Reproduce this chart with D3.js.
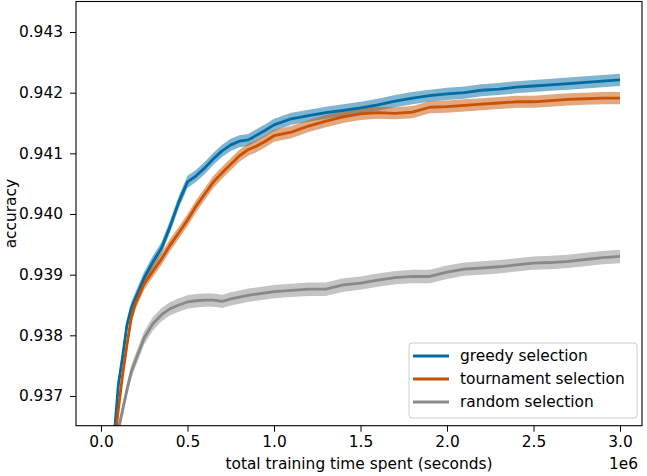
<!DOCTYPE html>
<html>
<head>
<meta charset="utf-8">
<script src="https://cdn.jsdelivr.net/npm/d3@7"></script>
<style>
  body { margin: 0; background: #fff; }
  svg { display: block; font-family: "DejaVu Sans", sans-serif; }
</style>
</head>
<body>
<svg id="chart" width="647" height="476"></svg>
<script>
// training time (x 1e6 seconds)
const times = [0.07, 0.08, 0.10, 0.125, 0.15, 0.175, 0.20, 0.25, 0.30, 0.35, 0.40, 0.45, 0.50,
  0.55, 0.60, 0.65, 0.70, 0.75, 0.80, 0.85, 0.90, 0.95, 1.00, 1.10, 1.20, 1.30, 1.40, 1.50,
  1.60, 1.70, 1.80, 1.90, 2.00, 2.10, 2.20, 2.30, 2.40, 2.50, 2.60, 2.70, 2.80, 2.90, 3.00];

const greedy = [0.93600, 0.93647, 0.93718, 0.93765, 0.93817, 0.93845, 0.93862, 0.93895, 0.93921,
  0.93944, 0.93980, 0.94020, 0.94053, 0.94063, 0.94076, 0.94091, 0.94104, 0.94114, 0.94120,
  0.94122, 0.94130, 0.94138, 0.94147, 0.94157, 0.94162, 0.94167, 0.94171, 0.94175, 0.94180,
  0.94186, 0.94191, 0.94195, 0.94198, 0.94200, 0.94204, 0.94206, 0.94209, 0.94211, 0.94213,
  0.94215, 0.94217, 0.94219, 0.94221];

const tournament = [0.93580, 0.93627, 0.93677, 0.93735, 0.93784, 0.93829, 0.93853, 0.93885,
  0.93906, 0.93926, 0.93949, 0.93969, 0.93990, 0.94013, 0.94033, 0.94053, 0.94068, 0.94082,
  0.94096, 0.94106, 0.94112, 0.94120, 0.94129, 0.94135, 0.94145, 0.94153, 0.94160, 0.94165,
  0.94167, 0.94166, 0.94168, 0.94176, 0.94177, 0.94179, 0.94181, 0.94183, 0.94185, 0.94185,
  0.94187, 0.94189, 0.94190, 0.94191, 0.94191];

const random = [0.93560, 0.93590, 0.93644, 0.93677, 0.93710, 0.93740, 0.93759, 0.93796, 0.93819,
  0.93834, 0.93844, 0.93850, 0.93855, 0.93857, 0.93858, 0.93858, 0.93856, 0.93860, 0.93863,
  0.93866, 0.93868, 0.93870, 0.93872, 0.93874, 0.93876, 0.93876, 0.93883, 0.93886, 0.93891,
  0.93895, 0.93897, 0.93897, 0.93904, 0.93909, 0.93911, 0.93913, 0.93916, 0.93919, 0.93920,
  0.93922, 0.93925, 0.93928, 0.93930];

// half width of the shaded bands
const bandWidth = [0.0001, 0.0001, 0.00011];

const seriesNames = ["greedy selection", "tournament selection", "random selection"];
const seriesColors = ["#006BA4", "#C85200", "#898989"];
const xTicks = [0, 0.5, 1.0, 1.5, 2.0, 2.5, 3.0];
const yTicks = [0.937, 0.938, 0.939, 0.940, 0.941, 0.942, 0.943];

// Plot area
const pLeft = 76, pRight = 642, pTop = 1.5, pBottom = 425.7;
const svg = d3.select("#chart");

const x = d3.scaleLinear().domain([-0.1445, 3.127]).range([pLeft, pRight]);
const y = d3.scaleLinear().domain([0.93651, 0.943503]).range([pBottom, pTop]);

svg.append("defs").append("clipPath").attr("id", "clip")
  .append("rect")
  .attr("x", pLeft).attr("y", pTop)
  .attr("width", pRight - pLeft).attr("height", pBottom - pTop);

const allSeries = [greedy, tournament, random];
const plot = svg.append("g").attr("clip-path", "url(#clip)");

// bands first, then lines on top
allSeries.forEach((vals, i) => {
  const area = d3.area()
    .x((d, j) => x(times[j]))
    .y0(d => y(d - bandWidth[i]))
    .y1(d => y(d + bandWidth[i]));
  plot.append("path")
    .attr("d", area(vals))
    .attr("fill", seriesColors[i])
    .attr("fill-opacity", 0.5);
});

allSeries.forEach((vals, i) => {
  const line = d3.line().x((d, j) => x(times[j])).y(d => y(d));
  plot.append("path")
    .attr("d", line(vals))
    .attr("fill", "none")
    .attr("stroke", seriesColors[i])
    .attr("stroke-width", 2.8)
    .attr("stroke-linejoin", "round");
});

// Axes
const xAxis = d3.axisBottom(x).tickValues(xTicks).tickFormat(d3.format(".1f"))
  .tickSizeInner(6).tickSizeOuter(0).tickPadding(4);
const gx = svg.append("g").attr("transform", `translate(0,${pBottom})`).call(xAxis);
gx.select(".domain").remove();
gx.selectAll("text").attr("font-size", "15.4px").attr("font-family", "DejaVu Sans").attr("fill", "#000");
gx.selectAll("line").attr("stroke", "#000").attr("stroke-width", 1);

const yAxis = d3.axisLeft(y).tickValues(yTicks).tickFormat(d3.format(".3f"))
  .tickSizeInner(6).tickSizeOuter(0).tickPadding(7);
const gy = svg.append("g").attr("transform", `translate(${pLeft},0)`).call(yAxis);
gy.select(".domain").remove();
gy.selectAll("text").attr("font-size", "15.4px").attr("font-family", "DejaVu Sans").attr("fill", "#000");
gy.selectAll("line").attr("stroke", "#000").attr("stroke-width", 1);

// frame
svg.append("rect")
  .attr("x", pLeft).attr("y", pTop)
  .attr("width", pRight - pLeft).attr("height", pBottom - pTop)
  .attr("fill", "none").attr("stroke", "#000").attr("stroke-width", 1.1);

// Labels
svg.append("text")
  .attr("x", (pLeft + pRight) / 2).attr("y", 469)
  .attr("text-anchor", "middle").attr("font-size", "15.4px")
  .text("total training time spent (seconds)");

svg.append("text")
  .attr("x", pRight - 4).attr("y", 469)
  .attr("text-anchor", "end").attr("font-size", "15.4px")
  .text("1e6");

svg.append("text")
  .attr("transform", `translate(16,${(pTop + pBottom) / 2}) rotate(-90)`)
  .attr("text-anchor", "middle").attr("font-size", "15.4px")
  .text("accuracy");

// Legend
const legend = svg.append("g");
legend.append("rect")
  .attr("x", 409).attr("y", 343).attr("width", 228).attr("height", 75)
  .attr("rx", 3).attr("fill", "#fff").attr("fill-opacity", 0.8)
  .attr("stroke", "#cccccc").attr("stroke-width", 1);

seriesNames.forEach((name, i) => {
  const ly = 356 + i * 23;
  legend.append("line")
    .attr("x1", 413).attr("x2", 449).attr("y1", ly).attr("y2", ly)
    .attr("stroke", seriesColors[i]).attr("stroke-width", 2.8);
  legend.append("text")
    .attr("x", 460).attr("y", ly).attr("dy", "0.35em")
    .attr("font-size", "15.4px")
    .text(name);
});
</script>
</body>
</html>
